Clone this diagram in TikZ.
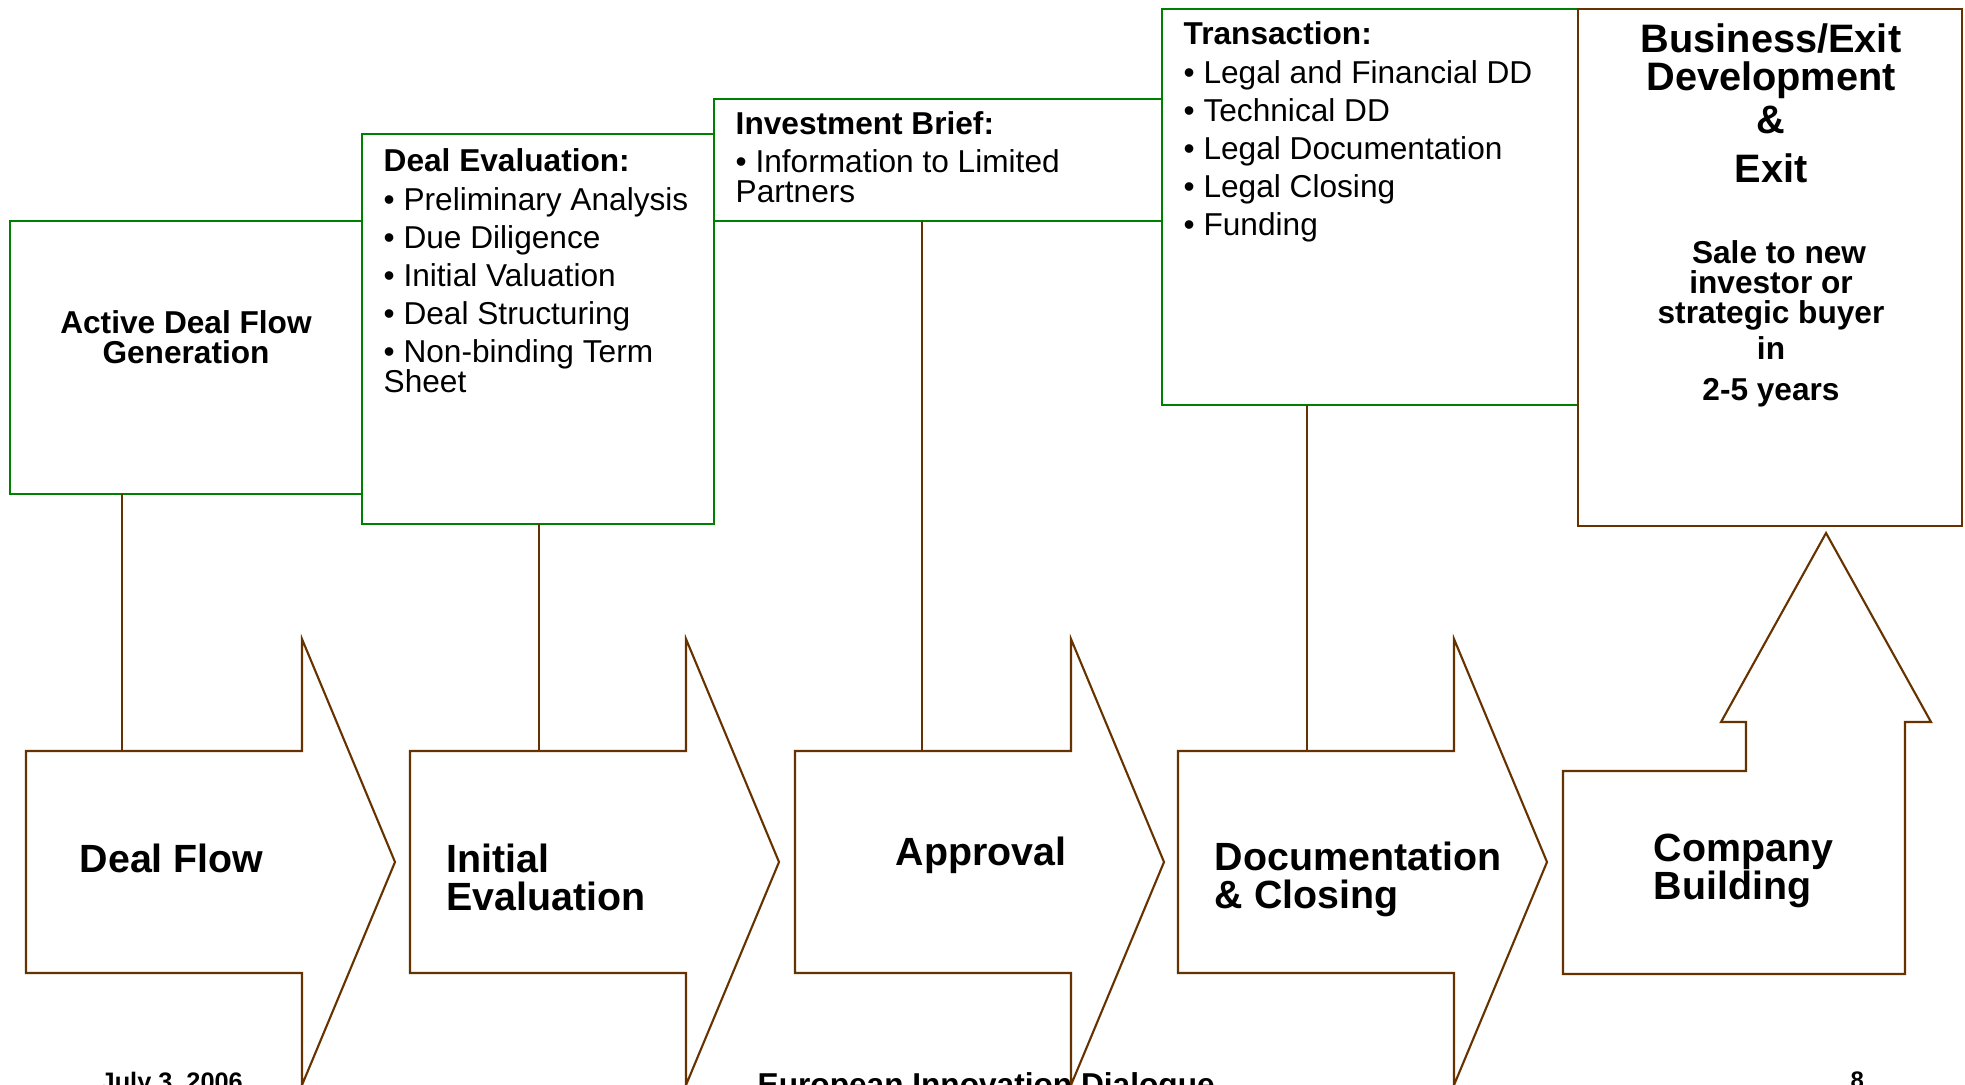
\documentclass[tikz,border=0pt]{standalone}
\usepackage{fontspec}
\setmainfont{Liberation Sans}
\usepackage{xcolor}
\definecolor{boxgreen}{RGB}{0,128,0}
\definecolor{stepbrown}{RGB}{102,51,0}

\begin{document}
\begin{tikzpicture}[
    x=0.1mm, y=-0.1mm,
    dealbox/.style={draw=boxgreen, line width=0.6pt},
    exitbox/.style={draw=stepbrown, line width=0.6pt},
    steparrow/.style={draw=stepbrown, fill=white, line width=0.6pt, line join=miter},
    steplink/.style={draw=stepbrown, line width=0.6pt},
    boxtext/.style={font=\fontsize{9}{8.5}\selectfont, align=left, inner sep=0pt, anchor=base west},
    steplabel/.style={font=\fontsize{11.2}{10.8}\selectfont\bfseries, align=left, inner sep=0pt, anchor=base west},
    foottext/.style={inner sep=0pt, anchor=base west}
]

% Page frame
\useasboundingbox (0,0) rectangle (1965,1084);
\clip (0,0) rectangle (1965,1084);
\fill[white] (0,0) rectangle (1965,1084);

% STEP ARROWS (left edges)
\def\aOne{26}
\def\aTwo{410}
\def\aThree{795}
\def\aFour{1178}

\draw[steparrow] (\aOne,751) -- ++(276,0) -- ++(0,-112) -- ++(93,223) -- ++(-93,223) -- ++(0,-112) -- ++(-276,0) -- cycle;
\draw[steparrow] (\aTwo,751) -- ++(276,0) -- ++(0,-112) -- ++(93,223) -- ++(-93,223) -- ++(0,-112) -- ++(-276,0) -- cycle;
\draw[steparrow] (\aThree,751) -- ++(276,0) -- ++(0,-112) -- ++(93,223) -- ++(-93,223) -- ++(0,-112) -- ++(-276,0) -- cycle;
\draw[steparrow] (\aFour,751) -- ++(276,0) -- ++(0,-112) -- ++(93,223) -- ++(-93,223) -- ++(0,-112) -- ++(-276,0) -- cycle;

% Company building: block with an up arrow
\draw[steparrow] (1563,771) -- (1746,771) -- (1746,722) -- (1721,722) -- (1826,533) -- (1931,722) -- (1905,722) -- (1905,974) -- (1563,974) -- cycle;

% Step labels (placed by the baseline of their last line)
\node[steplabel] (dftext) at (79,872) {Deal Flow};
\node[steplabel] (ietext) at (446,910) {Initial\\Evaluation};
\node[steplabel] (aptext) at (895,865) {Approval};
\node[steplabel] (dctext) at (1214,908) {Documentation\\\& Closing};
\node[steplabel] (cbtext) at (1653,899) {Company\\Building};

% DETAIL BOXES
\draw[dealbox] (10,221) rectangle (362,494);
\draw[dealbox] (362,134) rectangle (714,524);
\draw[dealbox] (714,99) rectangle (1162,221);
\draw[dealbox] (1162,9) rectangle (1578,405);
\draw[exitbox] (1578,9) rectangle (1962,526);

\node[font=\fontsize{9}{8.5}\selectfont\bfseries, align=center, inner sep=0pt, anchor=base] (gentext) at (186,363) {Active Deal Flow\\Generation};

\node[boxtext] (evaltext) at (383,392) {\textbf{Deal Evaluation:}\\[2.5pt]• Preliminary Analysis\\[2.3pt]• Due Diligence\\[2.3pt]• Initial Valuation\\[2.3pt]• Deal Structuring\\[2.3pt]• Non-binding Term\\Sheet};

\node[boxtext] (brieftext) at (735,202) {\textbf{Investment Brief:}\\[2.3pt]• Information to Limited\\Partners};

\node[boxtext] (transtext) at (1183,235) {\textbf{Transaction:}\\[2.5pt]• Legal and Financial DD\\[2.3pt]• Technical DD\\[2.3pt]• Legal Documentation\\[2.3pt]• Legal Closing\\[2.3pt]• Funding};

\node[font=\fontsize{11.3}{10.8}\selectfont\bfseries, align=center, inner sep=0pt, anchor=base] (exithead) at (1771,182) {Business/Exit\\Development\\[1.4pt]\&\\[3pt]Exit};
\node[font=\fontsize{9}{8.5}\selectfont\bfseries, align=center, inner sep=0pt, anchor=base] (exitnote) at (1771,400) {\hspace*{1.6mm}Sale to new\\investor or\\strategic buyer\\[2pt]in\\[2.9pt]2-5 years};

% Links from boxes down to the steps
\coordinate (genfoot) at (122,494);
\coordinate (evalfoot) at (539,524);
\coordinate (brieffoot) at (922,221);
\coordinate (transfoot) at (1307,405);
\coordinate (dfhead) at (122,751);
\coordinate (iehead) at (539,751);
\coordinate (aphead) at (922,751);
\coordinate (dchead) at (1307,751);

\draw[steplink] (genfoot) -- (dfhead);
\draw[steplink] (evalfoot) -- (iehead);
\draw[steplink] (brieffoot) -- (aphead);
\draw[steplink] (transfoot) -- (dchead);

% Footer
\node[foottext, font=\fontsize{7.2}{8}\selectfont\bfseries] (footdate) at (100,1090) {July 3, 2006};
\node[foottext, font=\fontsize{9}{10}\selectfont\bfseries] (footevent) at (757,1095) {European Innovation Dialogue};
\node[foottext, font=\fontsize{6.8}{8}\selectfont\bfseries] (footpage) at (1850,1088) {8};

\end{tikzpicture}
\end{document}
